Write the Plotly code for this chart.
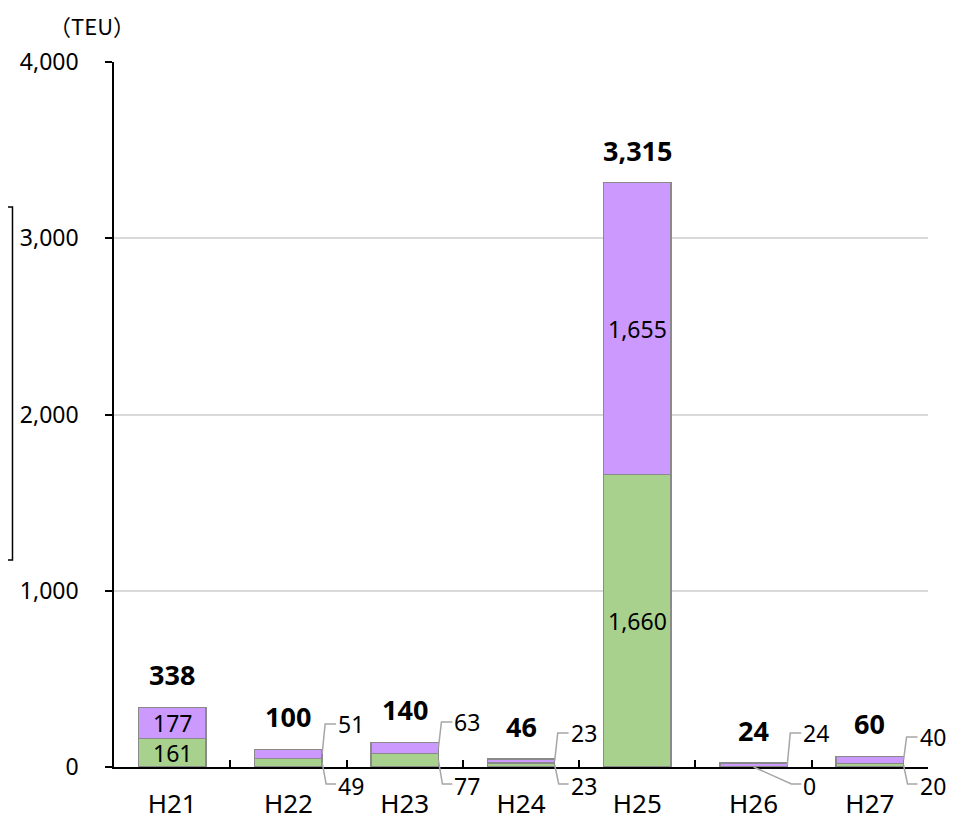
import plotly.graph_objects as go

# ---- data ----
years = ["H21", "H22", "H23", "H24", "H25", "H26", "H27"]
green_vals = [161, 49, 77, 23, 1660, 0, 20]
purple_vals = [177, 51, 63, 23, 1655, 24, 40]
totals = [338, 100, 140, 46, 3315, 24, 60]

# ---- style / layout ----
GREEN = "#A9D18E"
PURPLE = "#CC99FF"
OUTLINE = "#8a8a8a"
LEADER = "#a6a6a6"
FONT = "Noto Sans"
W, H = 957, 823
OFF = 8  # page body margin
ML, MR, MT, MB = 102, 37, 54, 64
PW, PH = W - ML - MR, H - MT - MB
YMAX = 4000
BARW = 0.58
PX_X = 7.0 / PW          # category units per pixel
PX_Y = YMAX / PH         # data units per pixel

inside_idx = [0, 4]
top_lbl_px = {1: 43, 2: 45, 3: 34, 5: 34, 6: 30}
bot_lbl_px = -17

fig = go.Figure()
fig.add_trace(go.Bar(x=years, y=green_vals, marker=dict(color=GREEN, line=dict(color=OUTLINE, width=1.5)),
                     width=BARW, showlegend=False, hoverinfo="skip"))
fig.add_trace(go.Bar(x=years, y=purple_vals, marker=dict(color=PURPLE, line=dict(color=OUTLINE, width=1.5)),
                     width=BARW, showlegend=False, hoverinfo="skip"))

annotations = []
shapes = []
LBL = dict(family=FONT, size=23, color="black")

for i, t in enumerate(totals):
    annotations.append(dict(x=i, y=t, xref="x", yref="y", text=f"<b>{t:,}</b>", showarrow=False,
                            yanchor="bottom", yshift=12, font=dict(family=FONT, size=27, color="black")))

for i in range(len(years)):
    g, p = green_vals[i], purple_vals[i]
    if i in inside_idx:
        annotations.append(dict(x=i, y=g / 2, text=f"{g:,}", showarrow=False, font=LBL))
        annotations.append(dict(x=i, y=g + p / 2, text=f"{p:,}", showarrow=False, font=LBL))
        continue
    right = i + BARW / 2
    # top (purple) label
    ty = top_lbl_px[i] * PX_Y
    sx = right
    x1 = sx + 3 * PX_X
    x2 = sx + 14 * PX_X
    shapes.append(dict(type="path", xref="x", yref="paper",
                       path=f"M {sx},{(g + p / 2) / YMAX} L {x1},{ty / YMAX} L {x2},{ty / YMAX}",
                       line=dict(color=LEADER, width=1.5)))
    annotations.append(dict(x=x2, y=ty, text=f"{p:,}", showarrow=False, xanchor="left", xshift=0,
                            font=LBL))
    # bottom (green) label
    by = bot_lbl_px * PX_Y
    if g == 0:
        sx = i
        x1 = i + 38 * PX_X
        x2 = x1 + 10 * PX_X
    else:
        sx = right
        x1 = sx + 4 * PX_X
        x2 = sx + 14 * PX_X
    shapes.append(dict(type="path", xref="x", yref="paper",
                       path=f"M {sx},{(g / 2) / YMAX} L {x1},{by / YMAX} L {x2},{by / YMAX}",
                       line=dict(color=LEADER, width=1.5)))
    annotations.append(dict(x=x2, y=0, yshift=bot_lbl_px - 2, text=f"{g:,}", showarrow=False,
                            xanchor="left", xshift=0, font=LBL))

# unit label
annotations.append(dict(xref="paper", yref="paper", x=(88 - OFF - ML) / PW, y=(H - MB + OFF - 25) / PH,
                        xanchor="center", yanchor="middle",
                        text="（TEU）", showarrow=False,
                        font=dict(family="Noto Sans CJK JP", size=22, color="black")))

# partially visible box at left edge
shapes.append(dict(type="rect", xref="paper", yref="paper",
                   x0=(-30 - OFF - ML) / PW, x1=(8 - OFF - ML) / PW,
                   y0=(H - MB + OFF - 560) / PH, y1=(H - MB + OFF - 207) / PH,
                   line=dict(color="black", width=1.5), fillcolor="rgba(0,0,0,0)"))

fig.update_layout(
    barmode="stack",
    width=W, height=H,
    margin=dict(l=ML, r=MR, t=MT, b=MB),
    plot_bgcolor="white", paper_bgcolor="white",
    font=dict(family=FONT, size=23, color="black"),
    annotations=annotations,
    shapes=shapes,
)
fig.update_xaxes(type="category", range=[-0.5, 6.5], showline=True, linecolor="black", linewidth=1.5,
                 ticks="inside", tickson="boundaries", ticklen=7, tickcolor="black", tickwidth=1.5,
                 tickfont=dict(family=FONT, size=26, color="black"), ticklabelstandoff=13,
                 showgrid=False, zeroline=False, automargin=False)
fig.update_yaxes(range=[0, YMAX], tickvals=[0, 1000, 2000, 3000, 4000], tickformat=",",
                 showline=True, linecolor="black", linewidth=1.5,
                 ticks="outside", ticklen=7, tickcolor="black", tickwidth=1.5,
                 tickfont=dict(family=FONT, size=23, color="black"), ticklabelstandoff=22,
                 showgrid=True, gridcolor="#d9d9d9", gridwidth=1.5, zeroline=False)

fig.write_html("out.html")
